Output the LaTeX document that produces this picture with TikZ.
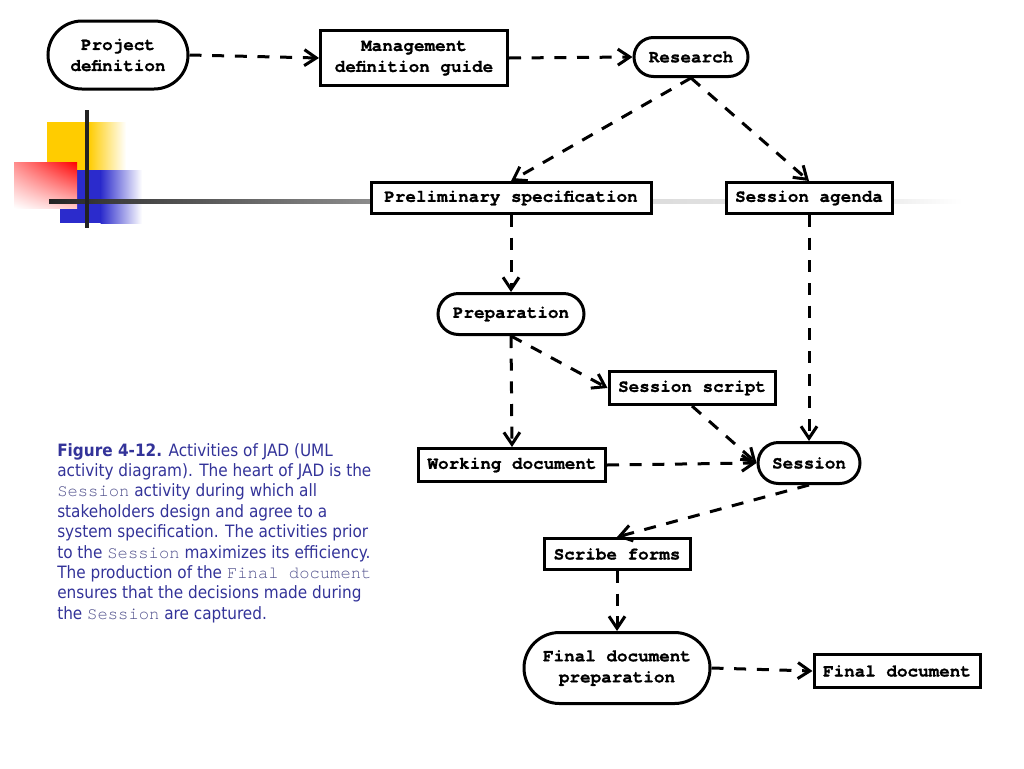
\documentclass[tikz,border=0pt]{standalone}
\usepackage{fontspec}
\usetikzlibrary{arrows.meta,shapes.misc,shadings}
\newfontfamily\courb{texgyrecursor}[Extension=.otf, UprightFont=*-regular, BoldFont=*-bold, BoldFeatures={FakeBold=1}]
\newfontfamily\capfont{DejaVu Sans Condensed}
\definecolor{capcol}{HTML}{333399}
\definecolor{capmono}{HTML}{50508C}
\definecolor{decoyel}{HTML}{FFCC00}
\definecolor{decoblue}{HTML}{2B2BCC}
\definecolor{decopink}{HTML}{FF8C8C}
\definecolor{decolpink}{HTML}{FFC8C8}
\definecolor{gA}{HTML}{222222}
\definecolor{gB}{HTML}{3C3C3C}
\definecolor{gC}{HTML}{8C8C8C}
\definecolor{gD}{HTML}{DCDCDC}
\definecolor{gE}{HTML}{EEEEEE}
\newcommand{\mono}[1]{{\courb\color{capmono}\fontsize{12.9}{15.3}\selectfont #1}}
\tikzset{
  base/.style={draw=black, line width=2.25pt, fill=white, inner sep=0pt, align=center,
    font=\courb\bfseries\fontsize{13.2}{15.75}\selectfont},
  box/.style={base, rectangle},
  act/.style={base, rounded rectangle},
  flow/.style={line width=2.25pt, dash pattern=on 9pt off 8pt,
    -{Straight Barb[length=9pt,width=12pt]}},
}
\begin{document}
\begin{tikzpicture}[x=0.75pt,y=-0.75pt]
\useasboundingbox (0,0) rectangle (1024,768);
% decoration
\fill[decoyel] (47,122) rectangle (89,170);
\shade[left color=decoyel, right color=white] (88.5,122) rectangle (126,170);
\fill[decoblue] (60,170) rectangle (101,223);
\shade[left color=decoblue, right color=white] (100.5,170) rectangle (142,223);
\shade[upper left=decopink, upper right=red,
       lower left=white, lower right=decolpink] (14,162) rectangle (77,208);
\shade[left color=gA, right color=gB] (49,199) rectangle (110,203);
\shade[left color=gB, right color=gC] (109.5,199) rectangle (370,203);
\shade[left color=gC, right color=gD] (369.5,199) rectangle (653,203);
\shade[left color=gD, right color=gE] (652.5,199) rectangle (894,203);
\shade[left color=gE, right color=white] (893.5,199) rectangle (962,203);
\draw[line width=2.5pt, gA] (87,110) -- (87,228);
% nodes
\node[act, minimum width=105pt, minimum height=51pt] (proj) at (118,55) {Project\\definition};
\node[box, minimum width=140.25pt, minimum height=41.25pt] (mgmt) at (414,58) {Management\\definition guide};
\node[act, minimum width=85.5pt, minimum height=29.25pt] (res) at (691,57) {Research};
\node[box, minimum width=210pt, minimum height=23.25pt] (prelim) at (511,198) {Preliminary specification};
\node[box, minimum width=124.5pt, minimum height=23.25pt] (agenda) at (809,198) {Session agenda};
\node[act, minimum width=109.5pt, minimum height=30.75pt] (prep) at (511,314) {Preparation};
\node[box, minimum width=124.5pt, minimum height=24.75pt] (script) at (692,388) {Session script};
\node[box, minimum width=140.25pt, minimum height=24.75pt] (work) at (512,465) {Working document};
\node[act, minimum width=76.5pt, minimum height=30.75pt] (sess) at (809,463) {Session};
\node[box, minimum width=109.5pt, minimum height=23.25pt] (scribe) at (617,554) {Scribe forms};
\node[act, minimum width=139.5pt, minimum height=53.25pt] (fdp) at (617,668) {Final document\\preparation};
\node[box, minimum width=124.5pt, minimum height=24.75pt] (final) at (897,671) {Final document};
% connectors
\draw[flow] (proj.east) -- (mgmt.west);
\draw[flow] (mgmt.east) -- (res.west);
\draw[flow] (res.south) -- (prelim.north);
\draw[flow] (res.south) -- (agenda.north);
\draw[flow] (prelim.south) -- (prep.north);
\draw[flow] (agenda.south) -- (sess.north);
\draw[flow] (prep.south) -- (script.west);
\draw[flow] (prep.south) -- (work.north);
\draw[flow] (script.south) -- (sess.west);
\draw[flow] (work.east) -- (sess.west);
\draw[flow] (sess.south) -- (scribe.north);
\draw[flow] (scribe.south) -- (fdp.north);
\draw[flow] (fdp.east) -- (final.west);
% caption
\node[anchor=north west, inner sep=0pt, align=left, text=capcol,
  font=\capfont\fontsize{12.75}{15.3}\selectfont] (cap) at (57,443) {%
\textbf{Figure 4-12.} Activities of JAD (UML\\
activity diagram). The heart of JAD is the\\
\mono{Session} activity during which all\\
stakeholders design and agree to a\\
system specification. The activities prior\\
to the \mono{Session} maximizes its efficiency.\\
The production of the \mono{Final document}\\
ensures that the decisions made during\\
the \mono{Session} are captured.};
\end{tikzpicture}
\end{document}
